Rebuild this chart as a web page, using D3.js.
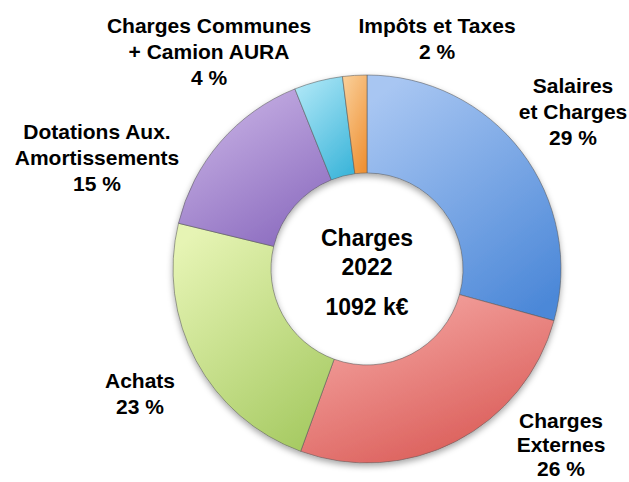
<!DOCTYPE html>
<html lang="fr">
<head>
    <meta charset="UTF-8">
    <title>Charges 2022</title>
    <script src="https://d3js.org/d3.v7.min.js"></script>
    <style>
        body { margin: 0; background: #fff; }
        text { font-family: "Liberation Sans", Arial, sans-serif; font-weight: bold; fill: #000; }
    </style>
</head>
<body>
    <script>
        // données
        var categories = ["Salaires et Charges", "Charges Externes", "Achats", "Dotations Aux. Amortissements", "Charges Communes + Camion AURA", "Impôts et Taxes"];
        var percents = [29, 26, 23, 15, 4, 2];
        var labelLines = [
            ["Salaires", "et Charges", "29 %"],
            ["Charges", "Externes", "26 %"],
            ["Achats", "23 %"],
            ["Dotations Aux.", "Amortissements", "15 %"],
            ["Charges Communes", "+ Camion AURA", "4 %"],
            ["Impôts et Taxes", "2 %"]
        ];
        var centerLines = ["Charges", "2022", "1092 k€"];

        var colorsLight = ["#a8c6f2", "#f6aaa6", "#e6f4b4", "#cab4e6", "#ace6f6", "#f9cc94"];
        var colorsDark  = ["#4c88d8", "#d85652", "#a6ca62", "#8a6abe", "#3eb6da", "#ef9236"];

        var width = 629;
        var height = 482;
        var cx = 367, cy = 269;
        var outerR = 194, innerR = 96;

        var svg = d3.select("body").append("svg")
            .attr("width", width)
            .attr("height", height);

        var defs = svg.append("defs");

        // dégradés des parts
        categories.forEach(function(c, i) {
            var g = defs.append("linearGradient")
                .attr("id", "grad" + i)
                .attr("x1", 0.2).attr("y1", 0)
                .attr("x2", 0.8).attr("y2", 1);
            g.append("stop").attr("offset", "0%").attr("stop-color", colorsLight[i]);
            g.append("stop").attr("offset", "100%").attr("stop-color", colorsDark[i]);
        });

        // ombre portée
        var filter = defs.append("filter").attr("id", "shadow")
            .attr("x", "-10%").attr("y", "-10%").attr("width", "120%").attr("height", "125%");
        filter.append("feDropShadow")
            .attr("dx", 0).attr("dy", 3)
            .attr("stdDeviation", 3)
            .attr("flood-color", "#000")
            .attr("flood-opacity", 0.35);

        var pie = d3.pie()
            .sort(null)
            .value(function(d) { return d; });

        var arc = d3.arc()
            .innerRadius(innerR)
            .outerRadius(outerR);

        var arcs = pie(percents);

        var donut = svg.append("g")
            .attr("transform", "translate(" + cx + "," + cy + ")")
            .attr("filter", "url(#shadow)");

        donut.selectAll("path")
            .data(arcs)
            .enter().append("path")
            .attr("d", arc)
            .attr("fill", function(d, i) { return "url(#grad" + i + ")"; })
            .attr("stroke", "#5a5a5a")
            .attr("stroke-opacity", 0.7)
            .attr("stroke-width", 0.8);

        // positions des étiquettes (centre x, ligne de base de la 1re ligne, interligne)
        var labelPos = [
            [573, 93, 26],
            [561, 428, 24],
            [140, 388, 26],
            [97, 139, 26],
            [209, 33, 26],
            [437, 33, 26]
        ];

        var labels = svg.append("g");
        labelLines.forEach(function(lines, i) {
            var t = labels.append("text")
                .attr("text-anchor", "middle")
                .attr("font-size", 21);
            lines.forEach(function(l, j) {
                t.append("tspan")
                    .attr("x", labelPos[i][0])
                    .attr("y", labelPos[i][1] + j * labelPos[i][2])
                    .text(l);
            });
        });

        // texte central
        var centerY = [246, 275, 315];
        svg.append("g").selectAll("text")
            .data(centerLines)
            .enter().append("text")
            .attr("x", cx)
            .attr("y", function(d, i) { return centerY[i]; })
            .attr("text-anchor", "middle")
            .attr("font-size", 23)
            .text(function(d) { return d; });
    </script>
</body>
</html>
